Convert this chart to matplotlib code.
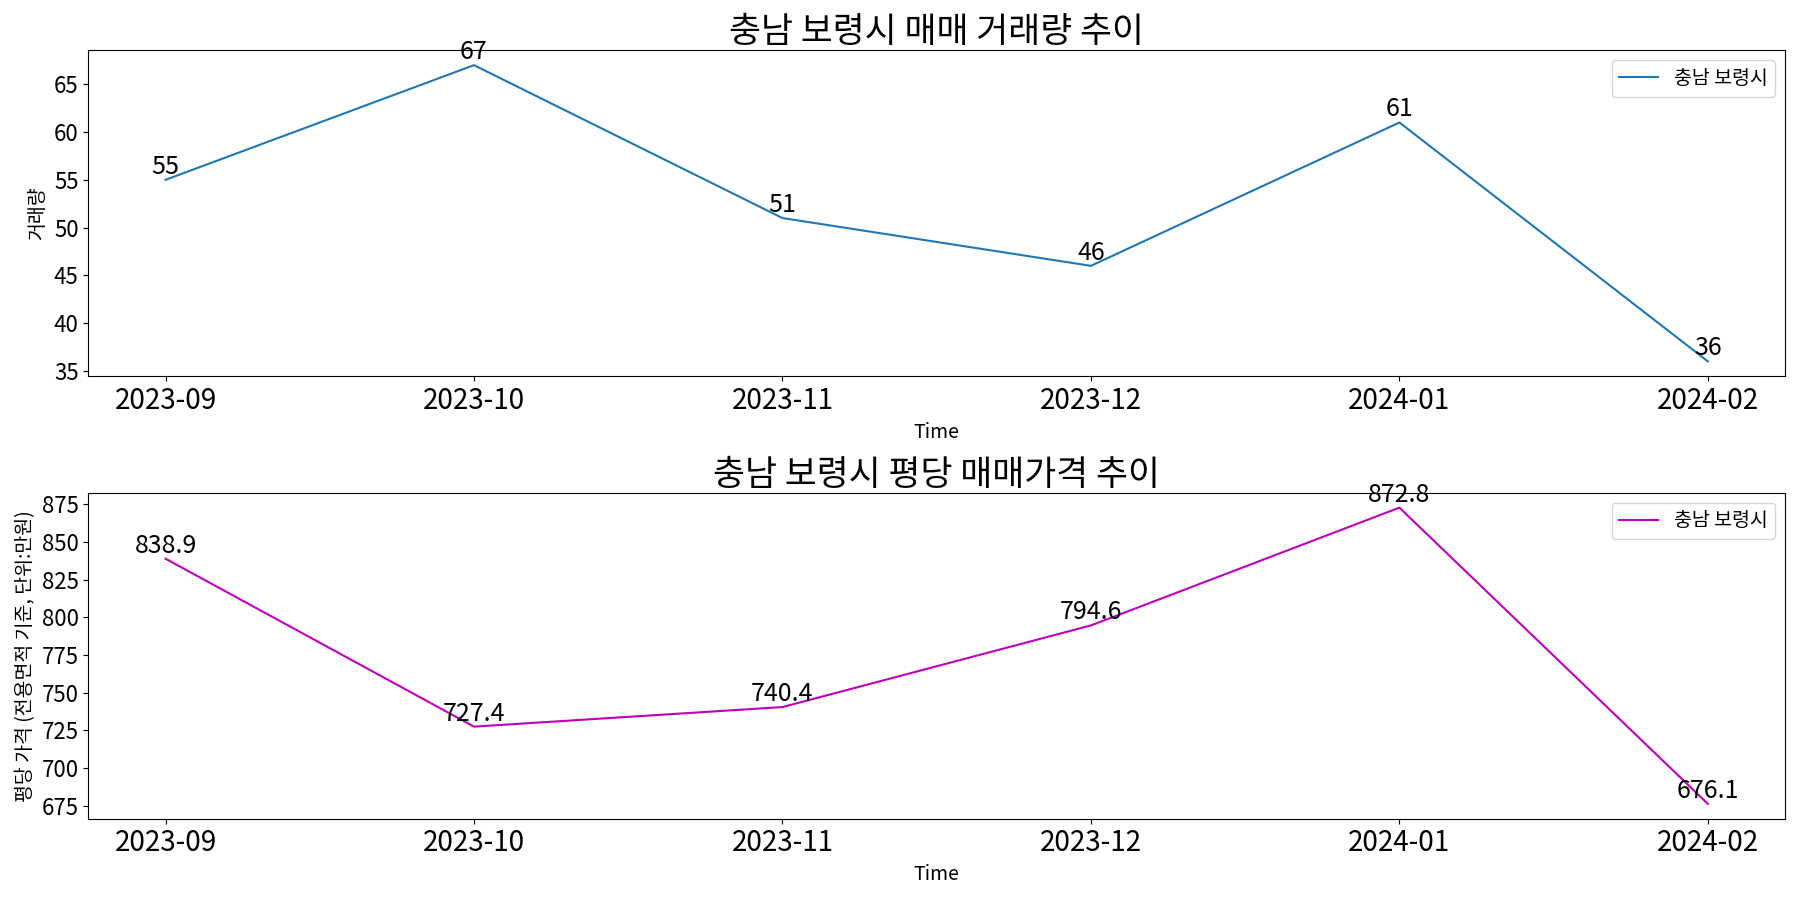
import matplotlib
matplotlib.use("Agg")
import matplotlib.pyplot as plt
from matplotlib.ticker import MultipleLocator

plt.rcParams['font.family'] = ['Noto Sans CJK KR', 'DejaVu Sans']
plt.rcParams['axes.unicode_minus'] = False

months = ["2023-09", "2023-10", "2023-11", "2023-12", "2024-01", "2024-02"]
volume = [55, 67, 51, 46, 61, 36]
price = [838.9, 727.4, 740.4, 794.6, 872.8, 676.1]
region = "충남 보령시"

fig, (ax1, ax2) = plt.subplots(2, 1, figsize=(18, 9), dpi=100)

# 거래량
ax1.plot(months, volume, color="#1f77b4", label=region)
for x, y in zip(months, volume):
    ax1.text(x, y, f"{y}", fontsize=18, ha="center", va="bottom")
ax1.set_title(f"{region} 매매 거래량 추이", fontsize=25)
ax1.set_xlabel("Time", fontsize=14)
ax1.set_ylabel("거래량", fontsize=14)
ax1.yaxis.set_major_locator(MultipleLocator(5))
ax1.tick_params(axis="x", labelsize=20)
ax1.tick_params(axis="y", labelsize=16)
ax1.legend(loc="upper right", fontsize=14)

# 평당 가격
ax2.plot(months, price, color="m", label=region)
for x, y in zip(months, price):
    ax2.text(x, y, f"{y}", fontsize=18, ha="center", va="bottom")
ax2.set_title(f"{region} 평당 매매가격 추이", fontsize=25)
ax2.set_xlabel("Time", fontsize=14)
ax2.set_ylabel("평당 가격 (전용면적 기준, 단위:만원)", fontsize=14)
ax2.yaxis.set_major_locator(MultipleLocator(25))
ax2.tick_params(axis="x", labelsize=20)
ax2.tick_params(axis="y", labelsize=16)
ax2.legend(loc="upper right", fontsize=14)

plt.tight_layout()
plt.savefig("out.png")
